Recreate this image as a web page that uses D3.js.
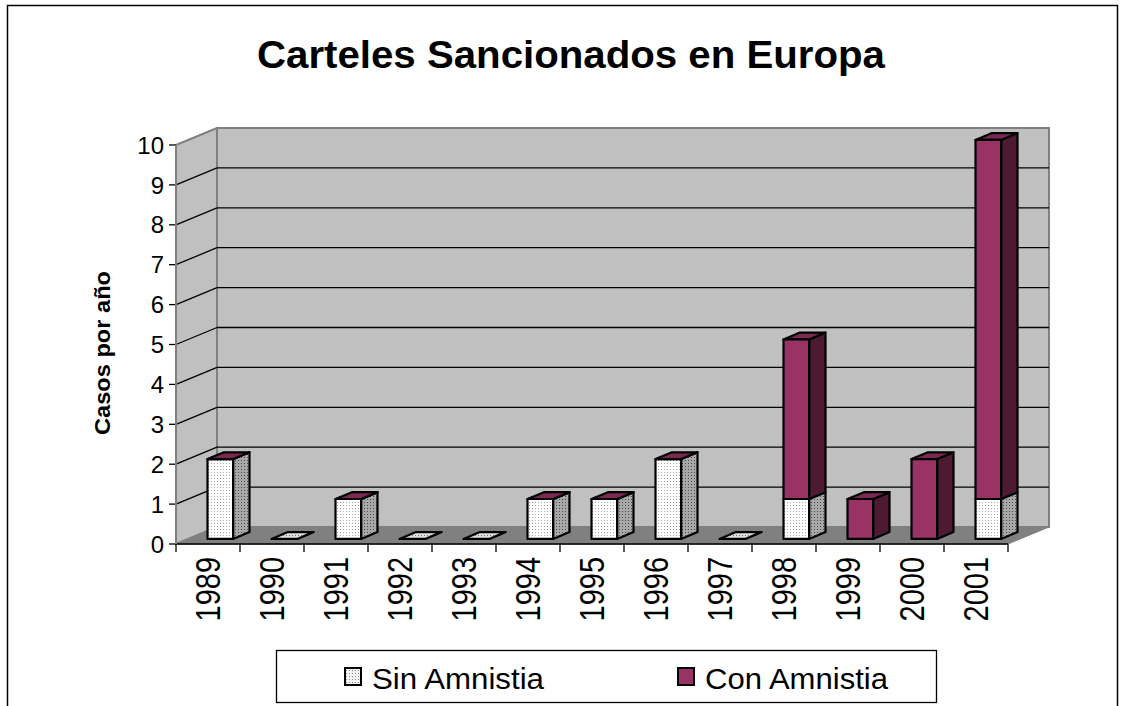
<!DOCTYPE html>
<html><head><meta charset="utf-8">
<script src="https://cdn.jsdelivr.net/npm/d3@7"></script>
<style>body{margin:0;background:#fff}svg{display:block;font-family:Arial,"Liberation Sans",sans-serif}</style>
</head><body><svg id="c" width="1125" height="706"></svg>
<script>
const years = ["1989","1990","1991","1992","1993","1994","1995","1996","1997","1998","1999","2000","2001"];
const sinAmnistia = [2,0,1,0,0,1,1,2,0,1,0,0,1];
const conAmnistia = [0,0,0,0,0,0,0,0,0,4,1,2,9];
const seriesNames = ["Sin Amnistia","Con Amnistia"];
const yTicks = [0,1,2,3,4,5,6,7,8,9,10];
const title = "Carteles Sancionados en Europa";
const yTitle = "Casos por año";

const svg = d3.select("#c");
const defs = svg.append("defs");
function dots(id, bg, dot){
  const p = defs.append("pattern").attr("id",id).attr("width",3).attr("height",3).attr("patternUnits","userSpaceOnUse");
  p.append("rect").attr("width",3).attr("height",3).attr("fill",bg);
  p.append("rect").attr("x",1).attr("y",1).attr("width",1).attr("height",1).attr("fill",dot);
}
dots("pFront","#ffffff","#a8a8a8");
dots("pSide","#a8a8a8","#4a4a4a");
dots("pFlat","#e0e0e0","#707070");
dots("pLeg","#f4f4f4","#8a8a8a");

const purple = {front:"#993366", side:"#4d1a33", top:"#7a2952"};

// outer border
svg.append("rect").attr("x",7.5).attr("y",5.5).attr("width",1110).attr("height",710).attr("fill","none").attr("stroke","#000").attr("stroke-width",1.5);

const x0 = 176, x1 = 1008;
const x = d3.scaleBand().domain(years).range([x0,x1]).paddingInner(0).paddingOuter(0);
const y = d3.scaleLinear().domain([0,10]).range([544,145]);
const D = [41,-17]; // depth vector
const yTop = y(10), yBot = y(0);
const pts = a => a.map(p=>p.join(",")).join(" ");

// back wall
svg.append("polygon").attr("points",pts([[x0+D[0],yTop+D[1]],[x1+D[0],yTop+D[1]],[x1+D[0],yBot+D[1]],[x0+D[0],yBot+D[1]]]))
  .attr("fill","#c0c0c0").attr("stroke","#808080").attr("stroke-width",2);
// side wall
svg.append("polygon").attr("points",pts([[x0,yTop],[x0+D[0],yTop+D[1]],[x0+D[0],yBot+D[1]],[x0,yBot]]))
  .attr("fill","#c0c0c0").attr("stroke","#808080").attr("stroke-width",2);
// floor
svg.append("polygon").attr("points",pts([[x0,yBot],[x0+D[0],yBot+D[1]],[x1+D[0],yBot+D[1]],[x1,yBot]]))
  .attr("fill","#808080").attr("stroke","#808080").attr("stroke-width",1);

// gridlines
const g = svg.append("g");
yTicks.filter(v=>v>0 && v<10).forEach(v=>{
  g.append("line").attr("x1",x0+D[0]).attr("x2",x1+D[0]).attr("y1",y(v)+D[1]).attr("y2",y(v)+D[1]).attr("stroke","#000").attr("stroke-width",1.3);
  g.append("line").attr("x1",x0).attr("x2",x0+D[0]).attr("y1",y(v)).attr("y2",y(v)+D[1]).attr("stroke","#000").attr("stroke-width",1.3);
});

// y axis ticks & labels
yTicks.forEach(v=>{
  svg.append("line").attr("x1",x0-7).attr("x2",x0).attr("y1",y(v)).attr("y2",y(v)).attr("stroke","#000").attr("stroke-width",1.3);
  svg.append("text").attr("x",x0-12).attr("y",y(v)).attr("dy","0.36em").attr("text-anchor","end").attr("font-size",24).text(v);
});
// front axis line
svg.append("line").attr("x1",x0).attr("x2",x1).attr("y1",yBot).attr("y2",yBot).attr("stroke","#000").attr("stroke-width",1.3);
svg.append("line").attr("x1",x0).attr("x2",x0).attr("y1",yTop).attr("y2",yBot).attr("stroke","#808080").attr("stroke-width",2);
// x ticks
d3.range(years.length+1).forEach(i=>{
  const xx = i<years.length ? x(years[i]) : x1;
  svg.append("line").attr("x1",xx).attr("x2",xx).attr("y1",yBot).attr("y2",yBot+8).attr("stroke","#000").attr("stroke-width",1.3);
});
years.forEach(yr=>{
  const cx = x(yr)+x.bandwidth()/2;
  svg.append("text").attr("transform",`translate(${cx},${yBot+13}) scale(1.18,1) rotate(-90)`).attr("text-anchor","end").attr("dy","0.36em").attr("font-size",29).text(yr);
});

// bars
const bw = x.bandwidth();
const fOff = 0.3, dFrac = 0.4;
const dx = D[0]*dFrac, dy = D[1]*dFrac;
function box(left, yb, yt, front, side, top, drawTop){
  const w = bw*0.4;
  const gg = svg.append("g").attr("stroke","#000").attr("stroke-width",2.2).attr("stroke-linejoin","round");
  gg.append("polygon").attr("points",pts([[left+w,yt],[left+w+dx,yt+dy],[left+w+dx,yb+dy],[left+w,yb]])).attr("fill",side);
  if(drawTop) gg.append("polygon").attr("points",pts([[left,yt],[left+dx,yt+dy],[left+w+dx,yt+dy],[left+w,yt]])).attr("fill",top);
  if(yb!==yt) gg.append("rect").attr("x",left).attr("y",yt).attr("width",w).attr("height",yb-yt).attr("fill",front);
}
years.forEach((yr,i)=>{
  const left = x(yr) + bw*0.3 + D[0]*fOff;
  const off = D[1]*fOff;
  const s = sinAmnistia[i], c = conAmnistia[i];
  if(s===0 && c===0){
    box(left, y(0)+off, y(0)+off, "url(#pFlat)","url(#pFlat)","url(#pFlat)", true);
    return;
  }
  if(s>0) box(left, y(0)+off, y(s)+off, "url(#pFront)","url(#pSide)","url(#pFlat)", false);
  box(left, y(s)+off, y(s+c)+off, purple.front, purple.side, purple.top, true);
});

// title
svg.append("text").attr("x",257).attr("y",68).attr("font-size",38).attr("font-weight","bold")
  .attr("textLength",628).attr("lengthAdjust","spacingAndGlyphs").text(title);
svg.append("text").attr("transform","translate(102,353) rotate(-90)").attr("text-anchor","middle").attr("dy","0.36em")
  .attr("font-size",22).attr("font-weight","bold").attr("textLength",164).attr("lengthAdjust","spacingAndGlyphs").text(yTitle);

// legend
const lg = svg.append("g");
lg.append("rect").attr("x",276.5).attr("y",650.5).attr("width",660).attr("height",52).attr("fill","#fff").attr("stroke","#000").attr("stroke-width",1.3);
const legX = [345,678];
const legW = [172,183];
const legFill = ["url(#pLeg)", purple.front];
seriesNames.forEach((n,i)=>{
  lg.append("rect").attr("x",legX[i]).attr("y",668).attr("width",16).attr("height",17).attr("fill",legFill[i]).attr("stroke","#000").attr("stroke-width",2);
  lg.append("text").attr("x",legX[i]+27).attr("y",689).attr("font-size",30)
    .attr("textLength",legW[i]).attr("lengthAdjust","spacingAndGlyphs").text(n);
});
</script></body></html>
